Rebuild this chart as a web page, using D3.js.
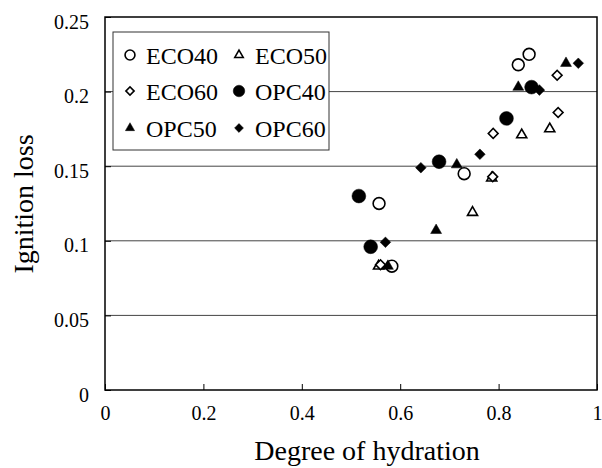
<!DOCTYPE html>
<html>
<head>
<meta charset="utf-8">
<script src="https://cdn.jsdelivr.net/npm/d3@7"></script>
<style>
  body { margin: 0; background: #fff; }
  svg text { font-family: "Liberation Serif", "Times New Roman", serif; fill: #000; }
</style>
</head>
<body>
<svg id="chart" width="602" height="468"></svg>
<script>
// series names (legend order)
const seriesNames = ["ECO40", "ECO50", "ECO60", "OPC40", "OPC50", "OPC60"];

// degree of hydration / ignition loss
const eco40X = [0.557, 0.583, 0.730, 0.840, 0.862];
const eco40Y = [0.125, 0.083, 0.145, 0.218, 0.225];
const eco50X = [0.556, 0.747, 0.786, 0.847, 0.904];
const eco50Y = [0.083, 0.119, 0.142, 0.171, 0.175];
const eco60X = [0.560, 0.788, 0.789, 0.919, 0.921];
const eco60Y = [0.084, 0.143, 0.172, 0.211, 0.186];
const opc40X = [0.516, 0.540, 0.679, 0.816, 0.867];
const opc40Y = [0.130, 0.096, 0.153, 0.182, 0.203];
const opc50X = [0.575, 0.673, 0.715, 0.840, 0.937];
const opc50Y = [0.083, 0.107, 0.151, 0.203, 0.219];
const opc60X = [0.570, 0.642, 0.762, 0.883, 0.962];
const opc60Y = [0.099, 0.149, 0.158, 0.201, 0.219];

const xTicks = [0, 0.2, 0.4, 0.6, 0.8, 1];
const yTicks = [0, 0.05, 0.1, 0.15, 0.2, 0.25];

const allX = [eco40X, eco50X, eco60X, opc40X, opc50X, opc60X];
const allY = [eco40Y, eco50Y, eco60Y, opc40Y, opc50Y, opc60Y];

// marker style per series: shape, filled or not
const markerOf = {
    ECO40: { shape: "circle", fill: false },
    ECO50: { shape: "triangle", fill: false },
    ECO60: { shape: "diamond", fill: false },
    OPC40: { shape: "circle", fill: true },
    OPC50: { shape: "triangle", fill: true },
    OPC60: { shape: "diamond", fill: true }
};

const svg = d3.select("#chart");
const plot = { left: 105, right: 597, top: 17, bottom: 390 };

const x = d3.scaleLinear().domain([0, 1]).range([plot.left, plot.right]);
const y = d3.scaleLinear().domain([0, 0.25]).range([plot.bottom, plot.top]);

// gridlines
svg.append("g")
    .selectAll("line")
    .data(yTicks.filter(t => t > 0 && t < 0.25))
    .join("line")
    .attr("x1", plot.left).attr("x2", plot.right)
    .attr("y1", d => y(d)).attr("y2", d => y(d))
    .attr("stroke", "#444").attr("stroke-width", 1);

// axes, ticks pointing inward
const xAxis = svg.append("g")
    .attr("transform", `translate(0,${plot.bottom})`)
    .call(d3.axisBottom(x).tickValues(xTicks).tickSize(-6).tickPadding(30)
        .tickFormat(d3.format("")));
const yAxis = svg.append("g")
    .attr("transform", `translate(${plot.left},0)`)
    .call(d3.axisLeft(y).tickValues(yTicks).tickSize(-6).tickPadding(16)
        .tickFormat(d3.format("")));

[xAxis, yAxis].forEach(a => {
    a.select(".domain").remove();
    a.selectAll(".tick line").attr("stroke", "#000");
    a.selectAll("text").attr("font-size", 20).attr("fill", "#000")
        .style("font-family", "'Liberation Serif', serif");
});
yAxis.selectAll("text").attr("dy", "0.55em");
xAxis.selectAll("text").attr("dy", "0");

// frame
svg.append("rect")
    .attr("x", plot.left).attr("y", plot.top)
    .attr("width", plot.right - plot.left).attr("height", plot.bottom - plot.top)
    .attr("fill", "none").attr("stroke", "#000").attr("stroke-width", 1.5);

function symbolPath(shape, fill, scale) {
    let type, size;
    if (shape === "circle") { type = d3.symbolCircle; size = fill ? 150 : 110; }
    else if (shape === "triangle") { type = d3.symbolTriangle; size = fill ? 52 : 44; }
    else { type = d3.symbolSquare; size = fill ? 56 : 48; }
    return d3.symbol().type(type).size(size * scale)();
}

function drawMarker(g, name, scale) {
    const m = markerOf[name];
    g.append("path")
        .attr("d", symbolPath(m.shape, m.fill, scale))
        .attr("transform", m.shape === "diamond" ? "rotate(45)" : null)
        .attr("fill", m.fill ? "#000" : "#fff")
        .attr("stroke", "#000")
        .attr("stroke-width", m.fill ? 0.5 : 1.6);
}

// points
seriesNames.forEach((name, i) => {
    const g = svg.append("g");
    allX[i].forEach((vx, k) => {
        const p = g.append("g")
            .attr("transform", `translate(${x(vx)},${y(allY[i][k])})`);
        drawMarker(p, name, 1);
    });
});

// legend
const legend = svg.append("g");
legend.append("rect")
    .attr("x", 113).attr("y", 32).attr("width", 216).attr("height", 118)
    .attr("fill", "#fff").attr("stroke", "#333").attr("stroke-width", 1);
const colX = [130, 239];
const rowY = [55, 91, 128];
seriesNames.forEach((name, i) => {
    const cx = colX[i % 2];
    const cy = rowY[Math.floor(i / 2)];
    const item = legend.append("g").attr("transform", `translate(${cx},${cy})`);
    drawMarker(item, name, 0.7);
    item.append("text")
        .attr("x", 16).attr("y", 8.5)
        .attr("font-size", 24)
        .text(name);
});

// axis titles
svg.append("text")
    .attr("x", 367).attr("y", 460)
    .attr("text-anchor", "middle")
    .attr("font-size", 28)
    .text("Degree of hydration");
svg.append("text")
    .attr("transform", "translate(33,204) rotate(-90)")
    .attr("text-anchor", "middle")
    .attr("font-size", 28)
    .text("Ignition loss");
</script>
</body>
</html>
